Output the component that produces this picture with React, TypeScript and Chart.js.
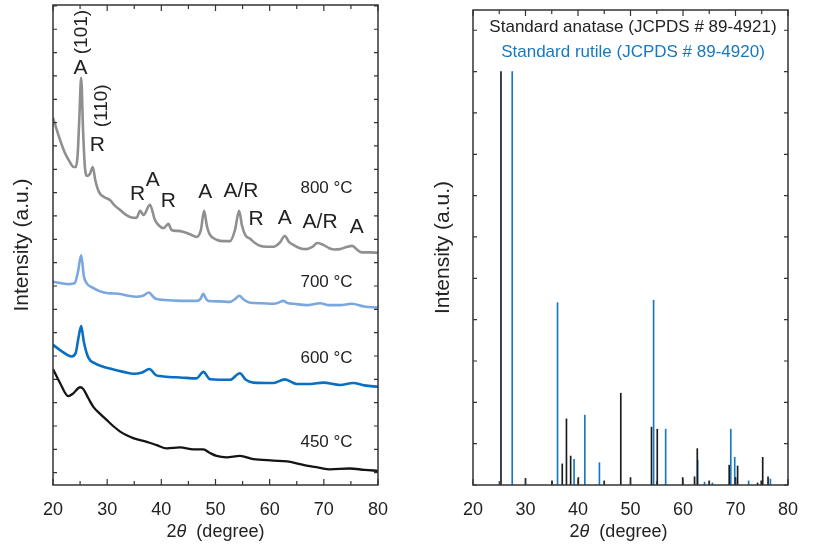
import React, { useEffect, useRef } from "react";
import { Chart, registerables } from "chart.js";

Chart.register(...registerables);

const FONT = "'Liberation Sans', Arial, Helvetica, sans-serif";
const TEXT = "#222222";

// ---------- Left panel: XRD patterns (2θ in degree, intensity in a.u.) ----------
const angles800 = [20, 21.3, 22.2, 23.1, 23.8, 24.2, 24.55, 24.85, 25.2, 25.55, 25.9, 26.3, 26.8, 27.35, 27.8, 28.5, 29.5, 30.5, 31.5, 32.4, 33.3, 34.2, 35.4, 36.1, 36.7, 37.9, 38.8, 39.6, 40.4, 41.3, 41.9, 43.0, 44.0, 45.3, 46.5, 47.3, 47.9, 48.4, 48.9, 50.2, 51.5, 52.7, 53.6, 54.35, 54.9, 55.5, 56.4, 57.3, 58.2, 59.5, 60.7, 61.8, 62.8, 63.6, 64.4, 65.6, 66.8, 67.9, 68.8, 69.9, 71.0, 72.0, 73.0, 74.3, 75.25, 76.2, 77.0, 78.5, 80.0];
const intensity800 = [76.0, 71.3, 68.5, 66.6, 65.5, 65.5, 68.1, 75.6, 84.6, 73.4, 65.3, 63.6, 64.0, 65.5, 62.7, 60.1, 59.0, 58.4, 57.1, 56.3, 55.4, 54.8, 54.6, 56.1, 55.2, 57.4, 54.2, 52.9, 52.4, 53.3, 52.0, 51.8, 51.6, 51.1, 50.5, 52.0, 56.1, 52.9, 51.1, 49.9, 49.6, 49.6, 52.0, 56.1, 52.9, 50.9, 50.1, 49.2, 48.6, 48.4, 48.4, 49.2, 50.7, 49.4, 48.8, 48.1, 47.9, 48.4, 49.2, 48.8, 48.1, 47.8, 47.9, 48.4, 48.6, 47.7, 47.2, 47.2, 47.1];

const angles700 = [20, 21.5, 23, 24, 24.6, 25.2, 25.7, 26.2, 27.4, 28.6, 29.9, 31.2, 32.4, 33.9, 35.4, 36.6, 37.7, 38.5, 39.1, 40.6, 42.2, 44.4, 46.5, 47.2, 47.75, 48.3, 48.7, 50.7, 52.7, 53.6, 54.4, 55.3, 56.4, 58.5, 60.7, 61.6, 62.5, 63.4, 64.4, 66.8, 69.3, 71, 73, 75.15, 77.5, 80];
const intensity700 = [40.9, 40.6, 40.4, 40.6, 43.0, 46.6, 42.1, 40.6, 39.6, 38.9, 38.5, 38.4, 38.3, 37.9, 37.7, 37.9, 38.6, 37.7, 37.2, 37.0, 36.9, 36.8, 36.8, 37.2, 38.3, 37.2, 36.8, 36.7, 36.6, 37.2, 37.9, 37.0, 36.4, 36.3, 36.2, 36.4, 36.8, 36.3, 36.2, 35.9, 36.3, 35.9, 35.9, 36.2, 35.6, 35.4];

const angles600 = [20, 21.5, 23.45, 24.2, 24.7, 25.2, 25.7, 26.5, 27.75, 29, 30.5, 33, 35, 36.3, 37.8, 39, 39.75, 41.5, 43.45, 46.5, 47.75, 49, 50.8, 52.7, 54.5, 55.6, 57, 60.7, 62.8, 65, 67.5, 69.9, 73, 75.4, 77.5, 80];
const intensity600 = [27.4, 26.1, 24.9, 25.7, 28.9, 31.4, 28.0, 24.7, 23.4, 22.8, 22.3, 21.6, 21.2, 21.4, 22.2, 20.9, 20.7, 20.5, 20.4, 20.2, 21.6, 20.0, 19.9, 19.9, 21.3, 19.9, 19.3, 19.2, 20.0, 19.0, 19.0, 19.3, 18.8, 19.2, 18.7, 18.4];

const angles450 = [20, 21.3, 22.8, 23.75, 25, 25.6, 26.5, 27.45, 28.7, 29.9, 31.1, 32.4, 33.6, 34.8, 37.3, 39.15, 41, 43.45, 45.9, 47.75, 49, 50.2, 52.05, 54.5, 57, 60.7, 63.2, 65, 66.8, 69, 71.1, 74.8, 77.5, 80];
const intensity450 = [22.2, 19.2, 16.4, 17.0, 18.3, 17.9, 16.0, 14.1, 12.6, 11.3, 10.0, 8.8, 8.0, 7.4, 6.6, 5.9, 5.2, 5.4, 5.0, 5.0, 4.2, 3.6, 3.3, 3.6, 2.9, 2.6, 2.4, 2.0, 1.5, 1.1, 0.7, 0.9, 0.6, 0.4];

const peakTexts = ["A", "(101)", "R", "(110)", "R", "A", "R", "A", "A/R", "R", "A", "A/R", "A"];
const peakAngles = [25.08, 25.35, 28.2, 29.0, 35.6, 38.4, 41.3, 48.1, 54.7, 57.5, 62.8, 69.3, 76.1];
const peakHeights = [86.7, 94.4, 70.1, 78.6, 59.7, 62.7, 58.1, 60.0, 60.4, 54.3, 54.5, 53.6, 52.5];
const peakRotated = [false, true, false, true, false, false, false, false, false, false, false, false, false];

const tempTexts = ["800 °C", "700 °C", "600 °C", "450 °C"];
const tempHeights = [60.9, 40.7, 24.4, 6.6];
const tempAngle = 70.5;

// ---------- Right panel: standard patterns ----------
const anataseAngles = [25.33, 30.0, 35.05, 37.0, 37.8, 38.6, 40.06, 45.0, 48.15, 50.0, 54.0, 55.1, 59.94, 62.2, 62.72, 65.0, 68.8, 70.0, 70.4, 74.2, 74.9, 75.18, 76.2];
const anataseIntensities = [100, 1.6, 1.0, 5.1, 16.0, 7.0, 1.8, 1.0, 22.2, 1.8, 14.0, 13.5, 1.8, 2.0, 8.8, 1.0, 4.8, 1.8, 4.6, 0.5, 1.0, 6.7, 2.0];
const rutileAngles = [27.47, 36.1, 39.25, 41.3, 44.08, 54.4, 56.7, 62.8, 64.1, 65.6, 69.1, 69.85, 72.5, 76.65];
const rutileIntensities = [100, 44.1, 6.2, 16.9, 5.4, 44.7, 13.5, 6.0, 0.7, 0.5, 13.5, 6.7, 1.0, 1.45];

const legendTexts = ["Standard anatase (JCPDS # 89-4921)", "Standard rutile (JCPDS # 89-4920)"];

const COLORS = {
  c800: "#8f8f8f",
  c700: "#7aa8de",
  c600: "#0b6fc1",
  c450: "#141414",
  anatase: "#1a1a1a",
  rutile: "#1778c2",
};

const pts = (xs: number[], ys: number[]) => xs.map((x, i) => ({ x, y: ys[i] }));

function framePlugin(cfg: { yStep: number; titleDx: number }) {
  return {
    id: "frameAxes",
    afterDatasetsDraw(chart: any) {
      const { ctx, chartArea: a, scales } = chart;
      const xs = scales.x;
      const ys = scales.y;
      ctx.save();
      ctx.strokeStyle = "#333333";
      ctx.lineWidth = 1.5;
      ctx.strokeRect(a.left, a.top, a.right - a.left, a.bottom - a.top);
      ctx.lineWidth = 1.2;
      ctx.beginPath();
      for (let v = xs.min; v <= xs.max + 1e-9; v += 5) {
        const px = xs.getPixelForValue(v);
        const major = Math.abs(v / 10 - Math.round(v / 10)) < 1e-6;
        const len = major ? 6 : 4;
        ctx.moveTo(px, a.bottom);
        ctx.lineTo(px, a.bottom - len);
        ctx.moveTo(px, a.top);
        ctx.lineTo(px, a.top + len);
      }
      const start = Math.ceil(ys.min / cfg.yStep) * cfg.yStep;
      for (let v = start; v <= ys.max + 1e-9; v += cfg.yStep) {
        const py = ys.getPixelForValue(v);
        ctx.moveTo(a.left, py);
        ctx.lineTo(a.left + 4, py);
        ctx.moveTo(a.right, py);
        ctx.lineTo(a.right - 4, py);
      }
      ctx.stroke();

      // x axis title: 2θ (degree) with italic θ
      const cx = (a.left + a.right) / 2 + cfg.titleDx;
      const cy = 532;
      ctx.fillStyle = TEXT;
      ctx.textBaseline = "middle";
      ctx.textAlign = "left";
      const fN = `18px ${FONT}`;
      const fI = `italic 18px ${FONT}`;
      ctx.font = fN;
      const w1 = ctx.measureText("2").width;
      const w3 = ctx.measureText("  (degree)").width;
      ctx.font = fI;
      const w2 = ctx.measureText("θ").width;
      let x0 = cx - (w1 + w2 + w3) / 2;
      ctx.font = fN;
      ctx.fillText("2", x0, cy);
      x0 += w1;
      ctx.font = fI;
      ctx.fillText("θ", x0, cy);
      x0 += w2;
      ctx.font = fN;
      ctx.fillText("  (degree)", x0, cy);
      ctx.restore();
    },
  };
}

const leftLabelsPlugin = {
  id: "leftLabels",
  afterDraw(chart: any) {
    const { ctx, scales } = chart;
    const xs = scales.x;
    const ys = scales.y;
    ctx.save();
    ctx.fillStyle = TEXT;
    ctx.textAlign = "center";
    ctx.textBaseline = "middle";
    peakTexts.forEach((t, i) => {
      const px = xs.getPixelForValue(peakAngles[i]);
      const py = ys.getPixelForValue(peakHeights[i]);
      if (peakRotated[i]) {
        ctx.font = `19px ${FONT}`;
        ctx.save();
        ctx.translate(px, py);
        ctx.rotate(-Math.PI / 2);
        ctx.fillText(t, 0, 0);
        ctx.restore();
      } else {
        ctx.font = `21px ${FONT}`;
        ctx.fillText(t, px, py);
      }
    });
    ctx.font = `17px ${FONT}`;
    tempTexts.forEach((t, i) => {
      ctx.fillText(t, xs.getPixelForValue(tempAngle), ys.getPixelForValue(tempHeights[i]));
    });
    ctx.restore();
  },
};

const rightLegendPlugin = {
  id: "rightLegend",
  afterDraw(chart: any) {
    const { ctx, chartArea: a } = chart;
    ctx.save();
    ctx.textAlign = "center";
    ctx.textBaseline = "middle";
    ctx.font = `17px ${FONT}`;
    const cx = (a.left + a.right) / 2 + 2.5;
    ctx.fillStyle = TEXT;
    ctx.fillText(legendTexts[0], cx, a.top + 17);
    ctx.fillStyle = COLORS.rutile;
    ctx.fillText(legendTexts[1], cx, a.top + 42);
    ctx.restore();
  },
};

function xAxis() {
  return {
    type: "linear" as const,
    min: 20,
    max: 80,
    offset: false,
    afterFit: (s: any) => {
      s.height = 63;
    },
    ticks: {
      stepSize: 10,
      padding: 6,
      color: TEXT,
      font: { family: FONT, size: 18 },
    },
    grid: { display: false, offset: false },
    border: { display: false },
  };
}

function yAxis(min: number, max: number, width: number, titlePad: number) {
  return {
    type: "linear" as const,
    min,
    max,
    afterFit: (s: any) => {
      s.width = width;
    },
    ticks: { display: false },
    grid: { display: false },
    border: { display: false },
    title: {
      display: true,
      text: "Intensity (a.u.)",
      color: TEXT,
      font: { family: FONT, size: 21 },
      padding: { top: titlePad, bottom: 0 },
    },
  };
}

export default function App() {
  const leftRef = useRef<HTMLCanvasElement>(null);
  const rightRef = useRef<HTMLCanvasElement>(null);

  useEffect(() => {
    const line = (data: any, color: string, w: number) => ({
      data,
      borderColor: color,
      backgroundColor: color,
      borderWidth: w,
      pointRadius: 0,
      fill: false,
      cubicInterpolationMode: "monotone" as const,
    });

    const left = new Chart(leftRef.current!, {
      type: "line",
      data: {
        datasets: [
          line(pts(angles800, intensity800), COLORS.c800, 2.6),
          line(pts(angles700, intensity700), COLORS.c700, 2.6),
          line(pts(angles600, intensity600), COLORS.c600, 2.6),
          line(pts(angles450, intensity450), COLORS.c450, 2.3),
        ],
      },
      options: {
        responsive: false,
        animation: false,
        layout: { padding: { left: 0, top: 5, right: 28, bottom: 0 } },
        plugins: { legend: { display: false }, tooltip: { enabled: false } },
        scales: {
          x: xAxis(),
          y: yAxis(-2.64, 100.2, 53, 9.4),
        },
      } as any,
      plugins: [framePlugin({ yStep: 5, titleDx: 0 }), leftLabelsPlugin],
    });

    const right = new Chart(rightRef.current!, {
      type: "bar",
      data: {
        datasets: [
          {
            data: pts(anataseAngles, anataseIntensities),
            backgroundColor: COLORS.anatase,
            barThickness: 1,
            grouped: false,
            borderWidth: 0,
          },
          {
            data: pts(rutileAngles, rutileIntensities),
            backgroundColor: COLORS.rutile,
            barThickness: 1,
            grouped: false,
            borderWidth: 0,
          },
        ],
      },
      options: {
        responsive: false,
        animation: false,
        layout: { padding: { left: 0, top: 10, right: 25, bottom: 0 } },
        plugins: { legend: { display: false }, tooltip: { enabled: false } },
        scales: {
          x: xAxis(),
          y: yAxis(0, 114.9, 67, 24.4),
        },
      } as any,
      plugins: [framePlugin({ yStep: 10, titleDx: -12 }), rightLegendPlugin],
    });

    return () => {
      left.destroy();
      right.destroy();
    };
  }, []);

  return (
    <div style={{ position: "absolute", left: 0, top: 0, width: 813, height: 548, background: "#ffffff" }}>
      <canvas ref={leftRef} width={406} height={548} style={{ position: "absolute", left: 0, top: 0 }} />
      <canvas ref={rightRef} width={407} height={548} style={{ position: "absolute", left: 406, top: 0 }} />
    </div>
  );
}
